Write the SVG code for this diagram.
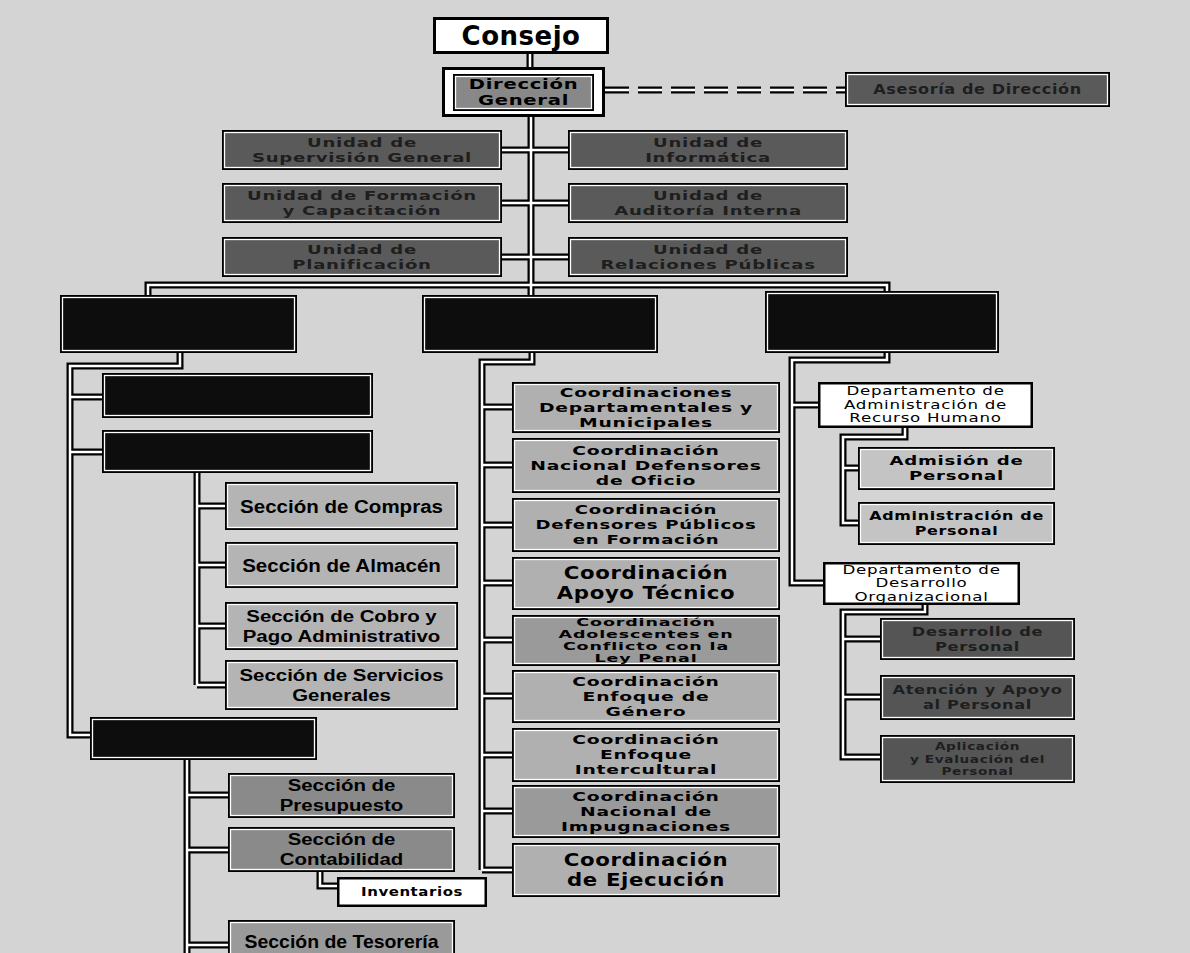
<svg xmlns="http://www.w3.org/2000/svg" xmlns:xlink="http://www.w3.org/1999/xlink" width="1190" height="953" viewBox="0 0 1190 953">
<style>
.bg{fill:#d4d4d4}
.ob{fill:#000}
.in{stroke:#fff;stroke-width:1.3}
.fw{fill:#fff;stroke:none}
.fk{fill:#0d0d0d}
.fu{fill:#5a5a5a}
.fd{fill:#888}
.fs{fill:#b4b4b4}
.fc{fill:#b0b0b0}
.fc2{fill:#9a9a9a}
.fp{fill:#8a8a8a}
.fa{fill:#c4c4c4}
.fr{fill:#555}
.co{fill:none;stroke:#000;stroke-width:7;stroke-linejoin:miter}
.ci{fill:none;stroke:#fff;stroke-width:2.5;stroke-linejoin:miter}
.dco{fill:none;stroke:#000;stroke-width:7;stroke-dasharray:24 9}
.dci{fill:none;stroke:#fff;stroke-width:2.5;stroke-dasharray:24 9}
text{text-anchor:middle}
.b{font-family:"DejaVu Sans","Liberation Sans",sans-serif;font-weight:bold;fill:#000;letter-spacing:0.5px}
.lb{font-family:"Liberation Sans",Arial,sans-serif;font-weight:bold;fill:#000}
.n{font-family:"DejaVu Sans","Liberation Sans",sans-serif;font-size:11.5px;fill:#000;letter-spacing:0.5px}
.dk{fill:#1e1e1e}
.c3{font-size:12.5px}
</style>
<defs>
<g id="links">
<path d="M530,53V67"/>
<path d="M531,117V295"/>
<path d="M502,150H568M502,203H568M502,257H568"/>
<path d="M148,295V285H887V291"/>
<path d="M180,353V366H70V735H90M70,397H102M70,452H102"/>
<path d="M197,473V685M197,506H225M197,565H225M197,626H225M197,685H225"/>
<path d="M187,760V960M187,795H228M187,850H228M187,945H228"/>
<path d="M320,872V886H337"/>
<path d="M532,353V362H482V870M482,407H512M482,465H512M482,525H512M482,583H512M482,640H512M482,696H512M482,755H512M482,811H512M482,870H512"/>
<path d="M887,353V360H792V583H823M792,405H818"/>
<path d="M905,428V437H843V523H858M843,468H858"/>
<path d="M925,605V612H843V757H880M843,639H880M843,697H880"/>
</g>
</defs>
<rect class="bg" x="0" y="0" width="1190" height="953"/>

<g id="connectors">
<path class="dco" d="M605,90H845"/>
<path class="dci" d="M605,90H845"/>
<use xlink:href="#links" class="co"/>
<use xlink:href="#links" class="ci"/>
</g>

<g id="consejo">
<rect class="ob" x="433" y="17" width="176" height="37"/>
<rect class="fw" x="436" y="20" width="170" height="31"/>
<text class="b" x="521" y="45" font-size="26">Consejo</text>
</g>

<g id="direccion-general">
<rect class="ob" x="442" y="67" width="163" height="50"/>
<rect class="fw" x="445" y="70" width="157" height="44"/>
<rect class="ob" x="453" y="74" width="141" height="37"/>
<rect class="fd in" x="455.5" y="76.5" width="136" height="32"/>
<g transform="translate(523.5 0) scale(1.45 1)">
<text class="b" y="89.5" font-size="13.5">Dirección</text>
<text class="b" y="105" font-size="13.5">General</text>
</g>
</g>

<g id="asesoria">
<rect class="ob" x="845" y="72" width="265" height="35"/>
<rect class="fu in" x="847.5" y="74.5" width="260" height="30"/>
<g transform="translate(977.5 0) scale(1.15 1)"><text class="b dk" y="94.5" font-size="14" letter-spacing="0.8">Asesoría de Dirección</text></g>
</g>

<g id="u-supervision">
<rect class="ob" x="222" y="130" width="280" height="40"/>
<rect class="fu in" x="224.5" y="132.5" width="275" height="35"/>
<g transform="translate(362 0) scale(1.45 1)"><text class="b dk c3" y="147">Unidad de</text><text class="b dk c3" y="162">Supervisión General</text></g>
</g>
<g id="u-formacion">
<rect class="ob" x="222" y="183" width="280" height="40"/>
<rect class="fu in" x="224.5" y="185.5" width="275" height="35"/>
<g transform="translate(362 0) scale(1.45 1)"><text class="b dk c3" y="200">Unidad de Formación</text><text class="b dk c3" y="215">y Capacitación</text></g>
</g>
<g id="u-planificacion">
<rect class="ob" x="222" y="237" width="280" height="40"/>
<rect class="fu in" x="224.5" y="239.5" width="275" height="35"/>
<g transform="translate(362 0) scale(1.45 1)"><text class="b dk c3" y="254">Unidad de</text><text class="b dk c3" y="269">Planificación</text></g>
</g>
<g id="u-informatica">
<rect class="ob" x="568" y="130" width="280" height="40"/>
<rect class="fu in" x="570.5" y="132.5" width="275" height="35"/>
<g transform="translate(708 0) scale(1.45 1)"><text class="b dk c3" y="147">Unidad de</text><text class="b dk c3" y="162">Informática</text></g>
</g>
<g id="u-auditoria">
<rect class="ob" x="568" y="183" width="280" height="40"/>
<rect class="fu in" x="570.5" y="185.5" width="275" height="35"/>
<g transform="translate(708 0) scale(1.45 1)"><text class="b dk c3" y="200">Unidad de</text><text class="b dk c3" y="215">Auditoría Interna</text></g>
</g>
<g id="u-relaciones">
<rect class="ob" x="568" y="237" width="280" height="40"/>
<rect class="fu in" x="570.5" y="239.5" width="275" height="35"/>
<g transform="translate(708 0) scale(1.45 1)"><text class="b dk c3" y="254">Unidad de</text><text class="b dk c3" y="269">Relaciones Públicas</text></g>
</g>

<g id="black-left">
<rect class="ob" x="60" y="295" width="237" height="58"/>
<rect class="fk in" x="62.5" y="297.5" width="232" height="53"/>
</g>
<g id="black-middle">
<rect class="ob" x="422" y="295" width="236" height="58"/>
<rect class="fk in" x="424.5" y="297.5" width="231" height="53"/>
</g>
<g id="black-right">
<rect class="ob" x="765" y="291" width="234" height="62"/>
<rect class="fk in" x="767.5" y="293.5" width="229" height="57"/>
</g>

<g id="black-a">
<rect class="ob" x="102" y="373" width="271" height="45"/>
<rect class="fk in" x="104.5" y="375.5" width="266" height="40"/>
</g>
<g id="black-b">
<rect class="ob" x="102" y="430" width="271" height="43"/>
<rect class="fk in" x="104.5" y="432.5" width="266" height="38"/>
</g>

<g id="s-compras">
<rect class="ob" x="225" y="482" width="233" height="48"/>
<rect class="fs in" x="227.5" y="484.5" width="228" height="43"/>
<g transform="translate(341.5 0) scale(1.08 1)"><text class="lb" y="513" font-size="19">Sección de Compras</text></g>
</g>
<g id="s-almacen">
<rect class="ob" x="225" y="542" width="233" height="46"/>
<rect class="fs in" x="227.5" y="544.5" width="228" height="41"/>
<g transform="translate(341.5 0) scale(1.08 1)"><text class="lb" y="572" font-size="19">Sección de Almacén</text></g>
</g>
<g id="s-cobro">
<rect class="ob" x="225" y="602" width="233" height="48"/>
<rect class="fs in" x="227.5" y="604.5" width="228" height="43"/>
<g transform="translate(341.5 0) scale(1.2 1)"><text class="lb" y="622" font-size="17">Sección de Cobro y</text><text class="lb" y="642" font-size="17">Pago Administrativo</text></g>
</g>
<g id="s-servicios">
<rect class="ob" x="225" y="660" width="233" height="50"/>
<rect class="fs in" x="227.5" y="662.5" width="228" height="45"/>
<g transform="translate(341.5 0) scale(1.2 1)"><text class="lb" y="681" font-size="17">Sección de Servicios</text><text class="lb" y="701" font-size="17">Generales</text></g>
</g>

<g id="black-c">
<rect class="ob" x="90" y="717" width="227" height="43"/>
<rect class="fk in" x="92.5" y="719.5" width="222" height="38"/>
</g>

<g id="s-presupuesto">
<rect class="ob" x="228" y="773" width="227" height="45"/>
<rect class="fp in" x="230.5" y="775.5" width="222" height="40"/>
<g transform="translate(341.5 0) scale(1.2 1)"><text class="lb" y="791.5" font-size="17">Sección de</text><text class="lb" y="811.5" font-size="17">Presupuesto</text></g>
</g>
<g id="s-contabilidad">
<rect class="ob" x="228" y="827" width="227" height="45"/>
<rect class="fp in" x="230.5" y="829.5" width="222" height="40"/>
<g transform="translate(341.5 0) scale(1.2 1)"><text class="lb" y="845.5" font-size="17">Sección de</text><text class="lb" y="865.5" font-size="17">Contabilidad</text></g>
</g>
<g id="inventarios">
<rect class="ob" x="337" y="877" width="150" height="30"/>
<rect class="fw" x="339.5" y="879.5" width="145" height="25"/>
<g transform="translate(412 0) scale(1.15 1)"><text class="b" y="896.5" font-size="13">Inventarios</text></g>
</g>
<g id="s-tesoreria">
<rect class="ob" x="228" y="920" width="227" height="45"/>
<rect class="fc2 in" x="230.5" y="922.5" width="222" height="40"/>
<g transform="translate(341.5 0) scale(1.08 1)"><text class="lb" y="948" font-size="18">Sección de Tesorería</text></g>
</g>

<g id="c-departamentales">
<rect class="ob" x="512" y="382" width="268" height="51"/>
<rect class="fc in" x="514.5" y="384.5" width="263" height="46"/>
<g transform="translate(646 0) scale(1.5 1)"><text class="b c3" y="397">Coordinaciones</text><text class="b c3" y="412">Departamentales y</text><text class="b c3" y="427">Municipales</text></g>
</g>
<g id="c-defensores-oficio">
<rect class="ob" x="512" y="438" width="268" height="55"/>
<rect class="fc in" x="514.5" y="440.5" width="263" height="50"/>
<g transform="translate(646 0) scale(1.5 1)"><text class="b c3" y="455">Coordinación</text><text class="b c3" y="470">Nacional Defensores</text><text class="b c3" y="485">de Oficio</text></g>
</g>
<g id="c-formacion">
<rect class="ob" x="512" y="498" width="268" height="54"/>
<rect class="fc in" x="514.5" y="500.5" width="263" height="49"/>
<g transform="translate(646 0) scale(1.45 1)"><text class="b c3" y="514.5">Coordinación</text><text class="b c3" y="529.5">Defensores Públicos</text><text class="b c3" y="544.5">en Formación</text></g>
</g>
<g id="c-apoyo">
<rect class="ob" x="512" y="557" width="268" height="53"/>
<rect class="fc in" x="514.5" y="559.5" width="263" height="48"/>
<g transform="translate(646 0) scale(1.25 1)"><text class="b" y="579.5" font-size="17">Coordinación</text><text class="b" y="599.5" font-size="17">Apoyo Técnico</text></g>
</g>
<g id="c-adolescentes">
<rect class="ob" x="512" y="615" width="268" height="51"/>
<rect class="fc2 in" x="514.5" y="617.5" width="263" height="46"/>
<g transform="translate(646 0) scale(1.7 1)"><text class="b" y="626.5" font-size="10.3">Coordinación</text><text class="b" y="638.5" font-size="10.3">Adolescentes en</text><text class="b" y="650.5" font-size="10.3">Conflicto con la</text><text class="b" y="662.5" font-size="10.3">Ley Penal</text></g>
</g>
<g id="c-genero">
<rect class="ob" x="512" y="670" width="268" height="53"/>
<rect class="fc in" x="514.5" y="672.5" width="263" height="48"/>
<g transform="translate(646 0) scale(1.5 1)"><text class="b c3" y="686">Coordinación</text><text class="b c3" y="701">Enfoque de</text><text class="b c3" y="716">Género</text></g>
</g>
<g id="c-intercultural">
<rect class="ob" x="512" y="728" width="268" height="54"/>
<rect class="fc in" x="514.5" y="730.5" width="263" height="49"/>
<g transform="translate(646 0) scale(1.5 1)"><text class="b c3" y="744.5">Coordinación</text><text class="b c3" y="759.5">Enfoque</text><text class="b c3" y="774.5">Intercultural</text></g>
</g>
<g id="c-impugnaciones">
<rect class="ob" x="512" y="785" width="268" height="53"/>
<rect class="fc2 in" x="514.5" y="787.5" width="263" height="48"/>
<g transform="translate(646 0) scale(1.5 1)"><text class="b c3" y="801">Coordinación</text><text class="b c3" y="816">Nacional de</text><text class="b c3" y="831">Impugnaciones</text></g>
</g>
<g id="c-ejecucion">
<rect class="ob" x="512" y="843" width="268" height="54"/>
<rect class="fc in" x="514.5" y="845.5" width="263" height="49"/>
<g transform="translate(646 0) scale(1.25 1)"><text class="b" y="866" font-size="17">Coordinación</text><text class="b" y="886" font-size="17">de Ejecución</text></g>
</g>

<g id="d-recurso-humano">
<rect class="ob" x="818" y="382" width="215" height="46"/>
<rect class="fw" x="820.5" y="384.5" width="210" height="41"/>
<g transform="translate(925.5 0) scale(1.45 1)"><text class="n" y="395.5">Departamento de</text><text class="n" y="409">Administración de</text><text class="n" y="422.5">Recurso Humano</text></g>
</g>
<g id="admision">
<rect class="ob" x="858" y="447" width="197" height="43"/>
<rect class="fa in" x="860.5" y="449.5" width="192" height="38"/>
<g transform="translate(956.5 0) scale(1.45 1)"><text class="b c3" y="465.5">Admisión de</text><text class="b c3" y="480.5">Personal</text></g>
</g>
<g id="administracion">
<rect class="ob" x="858" y="502" width="197" height="43"/>
<rect class="fa in" x="860.5" y="504.5" width="192" height="38"/>
<g transform="translate(956.5 0) scale(1.33 1)"><text class="b" y="520.5" font-size="12">Administración de</text><text class="b" y="535" font-size="12">Personal</text></g>
</g>
<g id="d-desarrollo">
<rect class="ob" x="823" y="562" width="197" height="43"/>
<rect class="fw" x="825.5" y="564.5" width="192" height="38"/>
<g transform="translate(921.5 0) scale(1.45 1)"><text class="n" y="574">Departamento de</text><text class="n" y="587.5">Desarrollo</text><text class="n" y="601">Organizacional</text></g>
</g>
<g id="desarrollo-personal">
<rect class="ob" x="880" y="618" width="195" height="42"/>
<rect class="fr in" x="882.5" y="620.5" width="190" height="37"/>
<g transform="translate(977.5 0) scale(1.3 1)"><text class="b dk c3" y="636">Desarrollo de</text><text class="b dk c3" y="651">Personal</text></g>
</g>
<g id="atencion">
<rect class="ob" x="880" y="675" width="195" height="45"/>
<rect class="fr in" x="882.5" y="677.5" width="190" height="40"/>
<g transform="translate(977.5 0) scale(1.3 1)"><text class="b dk c3" y="694.5">Atención y Apoyo</text><text class="b dk c3" y="709.5">al Personal</text></g>
</g>
<g id="aplicacion">
<rect class="ob" x="880" y="735" width="195" height="48"/>
<rect class="fr in" x="882.5" y="737.5" width="190" height="43"/>
<g transform="translate(977.5 0) scale(1.3 1)"><text class="b dk" y="750.5" font-size="10.5">Aplicación</text><text class="b dk" y="763" font-size="10.5">y Evaluación del</text><text class="b dk" y="775.5" font-size="10.5">Personal</text></g>
</g>
</svg>
